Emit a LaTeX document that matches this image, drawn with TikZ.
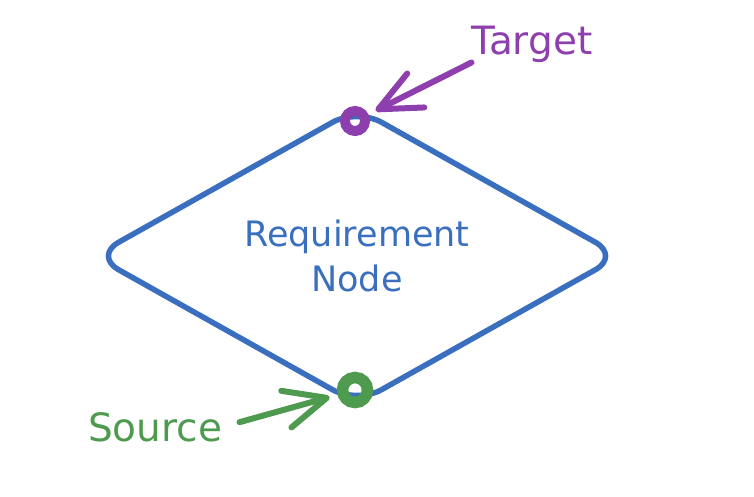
\documentclass[tikz,border=0pt]{standalone}
\usepackage{fontspec}
\setmainfont{DejaVu Sans}
\usetikzlibrary{shapes.geometric,arrows.meta}
\definecolor{reqblue}{HTML}{3A6FBF}
\definecolor{tgtpurple}{HTML}{8E3FAE}
\definecolor{srcgreen}{HTML}{4E9A4E}
\tikzset{
  reqnode/.style={diamond,draw=reqblue,line width=5.5pt,rounded corners=28pt,
    minimum width=528pt,minimum height=282pt,inner sep=0pt,
    text=reqblue,align=center,font=\fontsize{35}{45}\selectfont},
  pin/.style={circle,line width=10pt,minimum size=20pt,inner sep=0pt},
  tag/.style={font=\fontsize{39}{42}\selectfont,inner sep=0pt},
  pointer/.style={line width=6pt,line cap=round,
    -{Straight Barb[length=42pt,width=38pt,line cap=round,line join=round]}}
}

\begin{document}
\begin{tikzpicture}[x=1pt,y=-1pt]
\useasboundingbox (0,0) rectangle (754,496);
\node[reqnode] (req) at (357,256) {Requirement\\Node};
\node[pin,draw=tgtpurple] (tgtpin) at (355,121) {};
\node[pin,draw=srcgreen,line width=11.5pt,minimum size=25pt] (srcpin) at (355,390) {};
\node[tag,text=tgtpurple] (tgtlabel) at (532,44) {Target};
\node[tag,text=srcgreen] (srclabel) at (155,427) {Source};
\draw[pointer,tgtpurple,shorten >=8pt] (tgtlabel.south west) -- (tgtpin);
\draw[pointer,srcgreen,shorten <=18pt,shorten >=8pt] (srclabel.east) -- (srcpin);
\end{tikzpicture}
\end{document}
